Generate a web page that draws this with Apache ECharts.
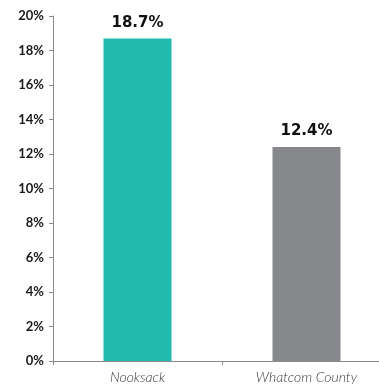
<!DOCTYPE html>
<html>
<head>
<meta charset="utf-8">
<script src="https://cdn.jsdelivr.net/npm/echarts@6/dist/echarts.min.js"></script>
<style>
  html, body { margin: 0; padding: 0; background: #ffffff; }
  #chart { width: 379px; height: 386px; }
</style>
</head>
<body>
<div id="chart"></div>
<script>
// Share of population, by area
const categories = ['Nooksack', 'Whatcom County'];
const values = [18.7, 12.4];
const barColors = ['#22bbaf', '#87888b'];
const yTicks = [0, 2, 4, 6, 8, 10, 12, 14, 16, 18, 20];

const chart = echarts.init(document.getElementById('chart'), null, { renderer: 'canvas' });

chart.setOption({
  animation: false,
  // plot area runs past the right edge of the canvas
  grid: { left: 53, width: 338, top: 16, bottom: 25, containLabel: false, outerBoundsMode: 'none' },
  xAxis: {
    type: 'category',
    data: categories,
    axisLine: { lineStyle: { color: '#8a8a8a', width: 1 } },
    axisTick: { show: true, alignWithLabel: false, length: 4, lineStyle: { color: '#8a8a8a' } },
    axisLabel: {
      color: '#3a3a3a',
      fontFamily: 'Lato',
      fontStyle: 'italic',
      fontWeight: 300,
      fontSize: 14,
      margin: 9
    }
  },
  yAxis: {
    type: 'value',
    min: yTicks[0],
    max: yTicks[yTicks.length - 1],
    interval: 2,
    splitLine: { show: false },
    axisLine: { show: true, lineStyle: { color: '#8a8a8a', width: 1 } },
    axisTick: { show: true, length: 4, lineStyle: { color: '#8a8a8a' } },
    axisLabel: {
      formatter: v => v + '%',
      color: '#1a1a1a',
      fontFamily: 'Lato',
      fontWeight: 'bold',
      fontSize: 13,
      margin: 9
    }
  },
  series: [{
    type: 'bar',
    data: values.map((v, i) => ({ value: v, itemStyle: { color: barColors[i] } })),
    barWidth: 68,
    label: {
      show: true,
      position: 'top',
      distance: 8,
      formatter: p => p.value.toFixed(1) + '%',
      color: '#111111',
      fontFamily: 'DejaVu Sans',
      fontWeight: 'bold',
      fontSize: 15
    }
  }]
});
</script>
</body>
</html>
